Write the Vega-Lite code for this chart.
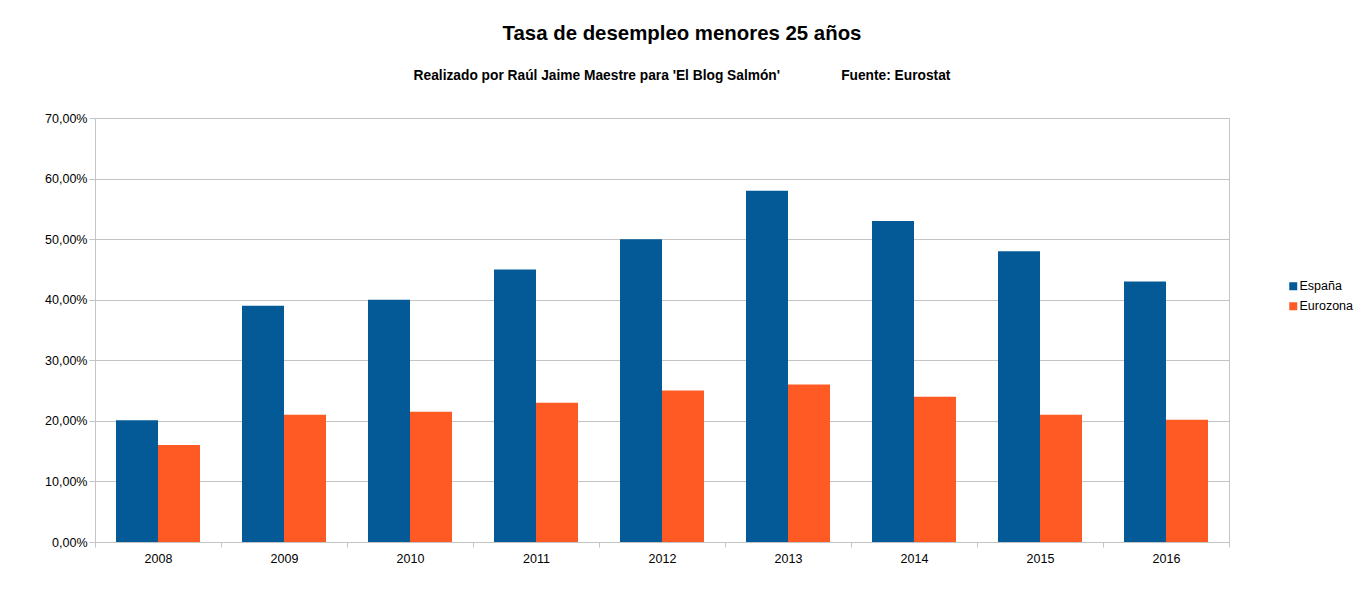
{
  "$schema": "https://vega.github.io/schema/vega-lite/v6.json",
  "width": 1134,
  "height": 424,
  "padding": {"left": 95, "top": 118, "right": 137, "bottom": 52},
  "autosize": "none",
  "background": "white",
  "data": {"values": [
    {"year": "2008", "serie": "España", "tasa": 20.1},
    {"year": "2008", "serie": "Eurozona", "tasa": 16},
    {"year": "2009", "serie": "España", "tasa": 39},
    {"year": "2009", "serie": "Eurozona", "tasa": 21},
    {"year": "2010", "serie": "España", "tasa": 40},
    {"year": "2010", "serie": "Eurozona", "tasa": 21.5},
    {"year": "2011", "serie": "España", "tasa": 45},
    {"year": "2011", "serie": "Eurozona", "tasa": 23},
    {"year": "2012", "serie": "España", "tasa": 50},
    {"year": "2012", "serie": "Eurozona", "tasa": 25},
    {"year": "2013", "serie": "España", "tasa": 58},
    {"year": "2013", "serie": "Eurozona", "tasa": 26},
    {"year": "2014", "serie": "España", "tasa": 53},
    {"year": "2014", "serie": "Eurozona", "tasa": 24},
    {"year": "2015", "serie": "España", "tasa": 48},
    {"year": "2015", "serie": "Eurozona", "tasa": 21},
    {"year": "2016", "serie": "España", "tasa": 43},
    {"year": "2016", "serie": "Eurozona", "tasa": 20.2}
  ]},
  "title": {
    "text": "Tasa de desempleo menores 25 años",
    "subtitle": "Realizado por Raúl Jaime Maestre para 'El Blog Salmón'\u00a0\u00a0\u00a0\u00a0\u00a0\u00a0\u00a0\u00a0\u00a0\u00a0\u00a0\u00a0\u00a0\u00a0\u00a0\u00a0Fuente: Eurostat",
    "anchor": "middle",
    "frame": "group",
    "offset": 29,
    "dx": 20,
    "font": "Liberation Sans",
    "fontSize": 20.4,
    "fontWeight": "bold",
    "color": "black",
    "subtitleFont": "Liberation Sans",
    "subtitleFontSize": 13.75,
    "subtitleFontWeight": "bold",
    "subtitleColor": "black",
    "subtitlePadding": 25
  },
  "mark": {"type": "bar"},
  "encoding": {
    "x": {
      "field": "year",
      "type": "nominal",
      "scale": {"paddingInner": 0, "paddingOuter": 0},
      "axis": {"title": null, "labelAngle": 0, "labelPadding": 5, "tickBand": "extent", "tickSize": 5, "tickColor": "#c4c4c4", "domainColor": "#c4c4c4", "grid": false}
    },
    "xOffset": {"field": "serie", "type": "nominal", "scale": {"paddingInner": 0, "paddingOuter": 0.5}},
    "y": {
      "field": "tasa",
      "type": "quantitative",
      "scale": {"domain": [0, 70]},
      "axis": {"title": null, "values": [0, 10, 20, 30, 40, 50, 60, 70], "labelExpr": "replace(format(datum.value, '.2f'), '.', ',') + '%'", "labelPadding": 2, "tickSize": 6, "tickColor": "#c4c4c4", "domainColor": "#c4c4c4", "gridColor": "#c4c4c4", "gridOpacity": 1}
    },
    "color": {
      "field": "serie",
      "type": "nominal",
      "scale": {"domain": ["España", "Eurozona"], "range": ["#045a96", "#ff5a24"]},
      "legend": {"title": null, "orient": "none", "legendX": 1192, "legendY": 162, "symbolType": "square", "symbolSize": 64, "symbolStrokeWidth": 0, "labelFontSize": 12.5, "rowPadding": 7, "labelOffset": 0}
    }
  },
  "config": {
    "font": "Liberation Sans",
    "axis": {"labelFont": "Liberation Sans", "labelFontSize": 12.5, "labelColor": "black"},
    "legend": {"labelFont": "Liberation Sans", "labelColor": "black"},
    "view": {"stroke": "#c4c4c4"}
  }
}
